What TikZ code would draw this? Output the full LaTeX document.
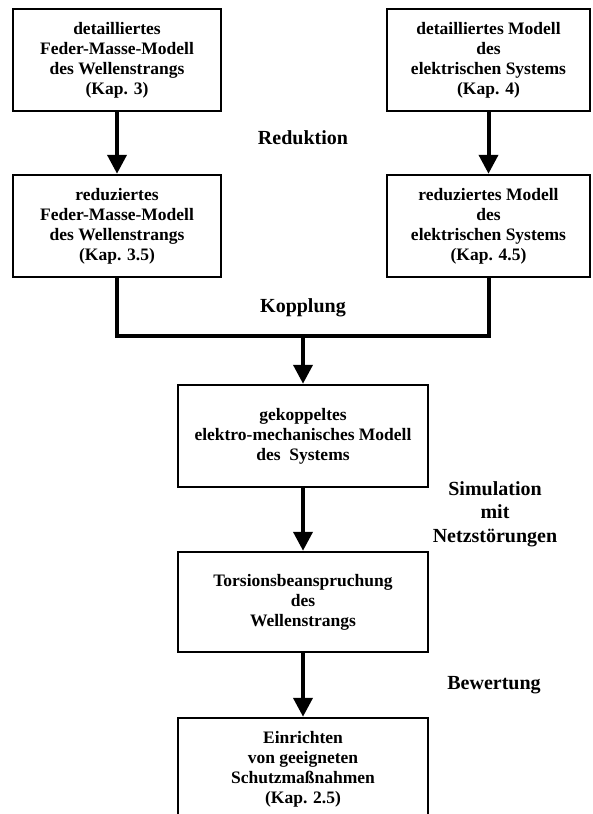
\documentclass[tikz,border=0pt]{standalone}
\usepackage{fontspec}
\setmainfont{Liberation Serif}
\usetikzlibrary{arrows.meta}
\tikzset{
  stagebox/.style={draw, line width=2.5pt, fill=white, align=center,
    inner sep=0pt, minimum height=102pt,
    font=\bfseries\fontsize{17.5}{20}\selectfont},
  flow/.style={line width=4pt, -{Triangle[width=19pt,length=19pt]}},
  joinline/.style={line width=4pt, line join=miter},
  steplabel/.style={align=center, font=\bfseries\fontsize{20}{23.5}\selectfont}
}
\begin{document}
\begin{tikzpicture}[x=1pt,y=-1pt]
\clip (0,0) rectangle (592,814);
\fill[white] (0,0) rectangle (592,814);

% model boxes
\node[stagebox, minimum width=208pt] (mechD) at (117,60)
  {detailliertes\\Feder-Masse-Modell\\des Wellenstrangs\\(Kap. 3)};
\node[stagebox, minimum width=203pt] (elecD) at (488.5,60)
  {detailliertes Modell\\des\\elektrischen Systems\\(Kap. 4)};
\node[stagebox, minimum width=208pt] (mechR) at (117,226)
  {reduziertes\\Feder-Masse-Modell\\des Wellenstrangs\\(Kap. 3.5)};
\node[stagebox, minimum width=203pt] (elecR) at (488.5,226)
  {reduziertes Modell\\des\\elektrischen Systems\\(Kap. 4.5)};
\node[stagebox, minimum width=250pt] (coupled) at (303,436)
  {gekoppeltes\\elektro-mechanisches Modell\\des\ \ Systems};
\node[stagebox, minimum width=250pt, minimum height=100pt] (torsion) at (303,602)
  {Torsionsbeanspruchung\\des\\Wellenstrangs};
\node[stagebox, minimum width=250pt] (protect) at (303,769)
  {Einrichten\\von geeigneten\\Schutzmaßnahmen\\(Kap. 2.5)};

% step labels
\node[steplabel] (lred) at (303,138) {Reduktion};
\node[steplabel] (lcpl) at (303,308) {Kopplung};
\node[steplabel] (lsim) at (495,514) {Simulation\\mit\\Netzstörungen};
\node[steplabel] (leval) at (494,685) {Bewertung};

% connectors
\draw[flow] (mechD) -- (mechR);
\draw[flow] (elecD) -- (elecR);
\coordinate (merge) at (303,336);
\draw[joinline] (mechR.south) |- (merge) -| (elecR.south);
\draw[flow] (merge) -- (coupled.north);
\draw[flow] (coupled) -- (torsion);
\draw[flow] (torsion) -- (protect);
\end{tikzpicture}
\end{document}
